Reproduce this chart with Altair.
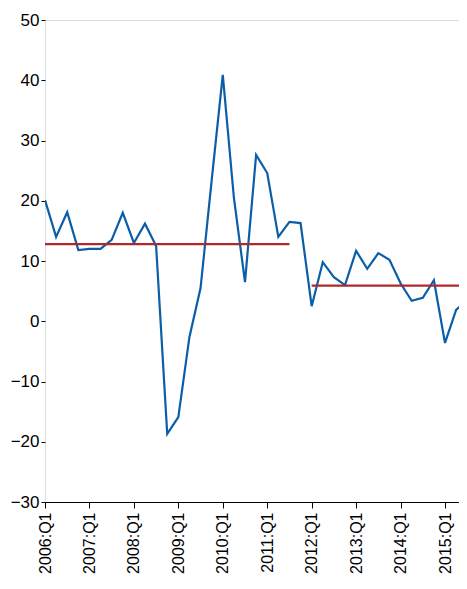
import altair as alt
import pandas as pd

# quarterly values, 2006:Q1 .. 2015:Q3
valores = [20.1, 14, 18.1, 11.8, 12, 12, 13.5, 18, 13, 16.2, 12.5, -18.7,
           -15.9, -2.6, 5.5, 23.4, 40.9, 20.5, 6.5, 27.6, 24.6, 14, 16.5, 16.3,
           2.5, 9.8, 7.3, 6, 11.7, 8.7, 11.3, 10.2, 6.3, 3.4, 3.9, 6.8,
           -3.6, 1.9, 3.5]
trimestre = list(range(len(valores)))

# period averages: start quarter, end quarter, value
media_ini = [0, 24]
media_fim = [22, 38]
media_val = [12.8, 5.9]

dados = pd.DataFrame({"t": trimestre, "v": valores})
medias = pd.DataFrame({"t0": media_ini, "t1": media_fim, "v": media_val})

x_escala = alt.Scale(domain=[0, 37.26], nice=False, zero=False)
y_escala = alt.Scale(domain=[-30, 50], nice=False)

linha = alt.Chart(dados).mark_line(color="#0a5ea8", strokeWidth=2.2, clip=True).encode(
    x=alt.X("t:Q", scale=x_escala, title=None,
            axis=alt.Axis(values=list(range(0, 37, 4)), labelAngle=-90,
                          labelExpr="(2006 + datum.value / 4) + ':Q1'",
                          labelAlign="right", labelBaseline="middle",
                          tickSize=6, labelPadding=4, grid=False,
                          domainColor="black", tickColor="black", labelFontSize=16)),
    y=alt.Y("v:Q", scale=y_escala, title=None,
            axis=alt.Axis(values=list(range(-30, 51, 10)), grid=False, domain=False,
                          tickSize=4, tickColor="black", labelFontSize=17,
                          labelExpr="replace(datum.label, '-', '−')")),
)

media = alt.Chart(medias).mark_rule(color="#b0282c", strokeWidth=2.2, clip=True).encode(
    x=alt.X("t0:Q", scale=x_escala), x2="t1:Q", y=alt.Y("v:Q", scale=y_escala)
)

chart = (linha + media).properties(
    width=414, height=482,
    autosize=alt.AutoSizeParams(type="none"),
    padding={"left": 37, "top": 12, "right": 0, "bottom": 76},
).configure_view(stroke=None).configure_axis(
    labelFont="Liberation Sans Narrow", labelColor="black"
).configure(background="white")

chart.save("out.html", embed_options={"renderer": "svg", "actions": False})
